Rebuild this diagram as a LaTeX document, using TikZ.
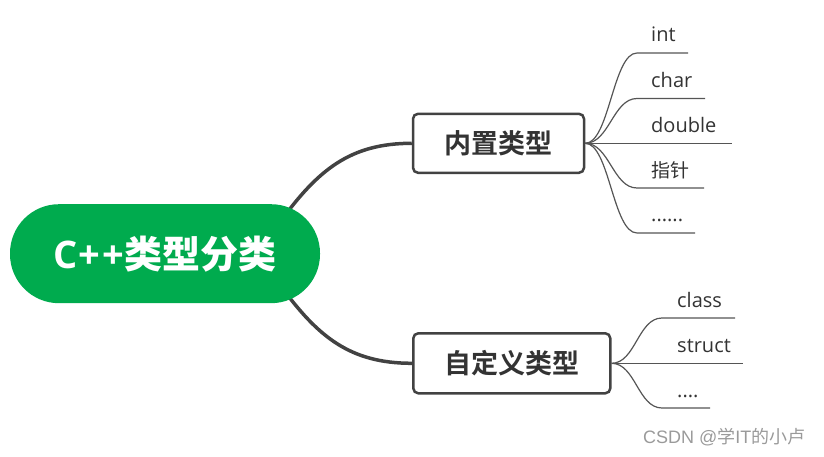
\documentclass[tikz,border=0pt]{standalone}
\usepackage{fontspec}
\setmainfont{Open Sans}
\newfontfamily\cjk{Noto Sans CJK SC}
\newfontfamily\cjkb{Noto Sans CJK SC Bold}
\newfontfamily\lat{Open Sans}
\newfontfamily\arial{Liberation Sans}
\usetikzlibrary{backgrounds}
\definecolor{rootgreen}{HTML}{00AB4E}
\definecolor{boxline}{HTML}{424242}
\definecolor{txt}{HTML}{333333}
\definecolor{leafline}{HTML}{555555}
\definecolor{wm}{HTML}{9A9A9A}
\tikzset{
  rootbox/.style={fill=rootgreen, draw=none, rounded corners=49pt, minimum width=310pt, minimum height=99pt, inner sep=0pt, text=white},
  topicbox/.style={draw=boxline, line width=2.5pt, fill=white, rounded corners=5pt, inner sep=0pt, text=txt, font=\cjkb\fontsize{27}{30}\selectfont},
  mainlink/.style={draw=boxline, line width=3.5pt},
  leaflink/.style={draw=leafline, line width=1.2pt},
  leaftext/.style={anchor=base west, inner sep=0pt, text=txt, font=\lat\fontsize{20}{24}\selectfont},
}
\begin{document}
\begin{tikzpicture}[x=1pt, y=-1pt]
\useasboundingbox (0,0) rectangle (824,457);

\node[rootbox] (root) at (165,253.7) {\raisebox{-3pt}{\lat\bfseries\fontsize{38}{40}\selectfont C\kern1pt+\kern2pt+\kern1pt\cjkb 类型分类}};
\node[topicbox, minimum width=171pt, minimum height=59pt] (b1) at (498.5,143.3) {内置类型};
\node[topicbox, minimum width=197pt, minimum height=60pt] (b2) at (511.8,363.3) {自定义类型};

% leaf anchors (underline start / end)
\coordinate (u1s) at (637,53);  \coordinate (u1e) at (688,53);
\coordinate (u2s) at (637,98.5);  \coordinate (u2e) at (705,98.5);
\coordinate (u3s) at (637,143.3); \coordinate (u3e) at (732,143.3);
\coordinate (u4s) at (637,188); \coordinate (u4e) at (704,188);
\coordinate (u5s) at (637,233); \coordinate (u5e) at (695,233);
\coordinate (v1s) at (662,318); \coordinate (v1e) at (735,318);
\coordinate (v2s) at (662,363.3); \coordinate (v2e) at (743,363.3);
\coordinate (v3s) at (662,408); \coordinate (v3e) at (710,408);

\node[leaftext] (l1) at (651,42) {int};
\node[leaftext] (l2) at (651,87.5) {char};
\node[leaftext] (l3) at (651,132.3) {double};
\node[leaftext, font=\cjk\fontsize{19}{22}\selectfont] (l4) at (651,178) {指针};
\node[leaftext] (l5) at (651,222) {......};
\node[leaftext] (m1) at (677,307) {class};
\node[leaftext] (m2) at (677,352.3) {struct};
\node[leaftext] (m3) at (677,397) {....};

\node[anchor=base west, inner sep=0pt, text=wm, font=\arial\fontsize{18}{20}\selectfont] (wmk) at (643,443) {CSDN @{\cjk 学}IT{\cjk 的小卢}};

\begin{scope}[on background layer]
\coordinate (r1) at (280,222);
\coordinate (r2) at (280,285);
\draw[mainlink] (r1) .. controls (318,170) and (350,143.3) .. (b1.west);
\draw[mainlink] (r2) .. controls (318,337) and (350,363.3) .. (b2.west);
\end{scope}

\foreach \u in {1,...,5}{
  \draw[leaflink] (b1.east) .. controls +(24,0) and +(-24,0) .. (u\u s) -- (u\u e);
}
\foreach \v in {1,2,3}{
  \draw[leaflink] (b2.east) .. controls +(24,0) and +(-24,0) .. (v\v s) -- (v\v e);
}
\end{tikzpicture}
\end{document}
